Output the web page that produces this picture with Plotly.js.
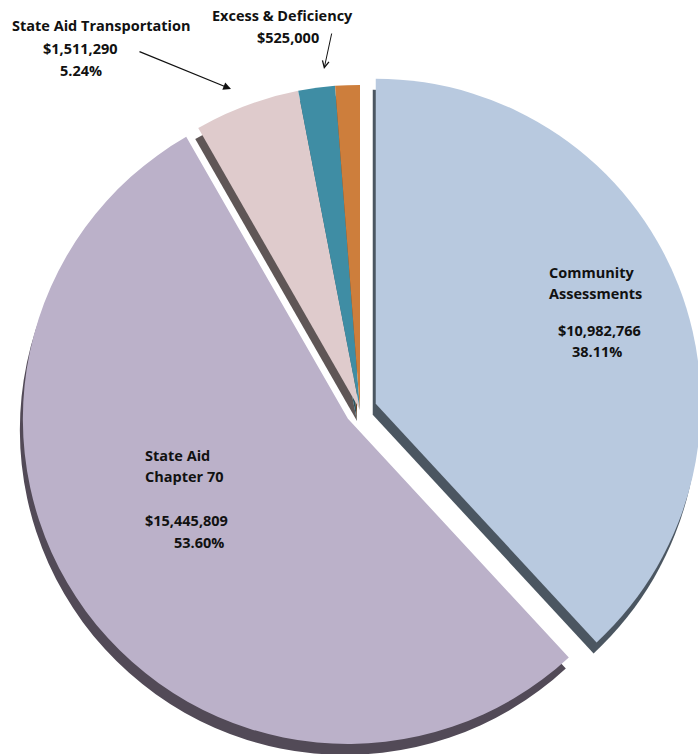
<!DOCTYPE html>
<html><head><meta charset="utf-8">
<script src="https://cdn.plot.ly/plotly-3.0.1.min.js"></script>
<style>html,body{margin:0;padding:0;overflow:hidden;background:#fff}#chart{width:712px;height:800px}</style>
</head><body><div id="chart"></div>
<script>
const categories = ["Community Assessments","State Aid Chapter 70","State Aid Transportation","Excess & Deficiency","Other"];
const amounts = [10982766, 15445809, 1511290, 525000, 352000];
const amountLabels = ["$10,982,766","$15,445,809","$1,511,290","$525,000",""];
const percentLabels = ["38.11%","53.60%","5.24%","",""];
const nameLines = [["Community","Assessments"],["State Aid","Chapter 70"],["State Aid Transportation"],["Excess & Deficiency"],[]];
const sliceColors = ["#b8c9df","#bbb1c9","#dfcbcc","#3f8da4","#cd7e3c"];
const edgeColors = ["#4b5661","#524a57","#5f5656","#2b5563","#6d4424"];
const pulls = [0.052, 0.046, 0, 0, 0];

const W = 712, H = 800;
const font = {family: "'Open Sans', Lato, sans-serif", size: 14.5, color: "#111"};

function dom(cx, cy, size) {
  return {x: [(cx - size/2)/W, (cx + size/2)/W], y: [(H - cy - size/2)/H, (H - cy + size/2)/H]};
}
const pieSize = 684;

const shadow = {
  type: 'pie', labels: categories.map(c => c + ' edge'), values: amounts, sort: false,
  direction: 'clockwise', rotation: 0, pull: pulls,
  marker: {colors: edgeColors, line: {width: 0}},
  textinfo: 'none', hoverinfo: 'skip', showlegend: false,
  domain: dom(357, 421, pieSize)
};
const main = {
  type: 'pie', labels: categories, values: amounts, sort: false,
  direction: 'clockwise', rotation: 0, pull: pulls,
  marker: {colors: sliceColors, line: {width: 0}},
  textinfo: 'none', hoverinfo: 'skip', showlegend: false,
  domain: dom(360, 410, pieSize)
};

function ann(text, px, py, xanchor) {
  return {xref: 'paper', yref: 'paper', x: px/W, y: 1 - py/H, text: '<b>' + text + '</b>',
          showarrow: false, xanchor: xanchor || 'center', yanchor: 'middle', font: font};
}
const annotations = [
  ann(nameLines[0][0], 591, 272), ann(nameLines[0][1], 595, 294),
  ann(amountLabels[0], 599, 330), ann(percentLabels[0], 597, 351),
  ann(nameLines[1][0], 143, 455, 'left'), ann(nameLines[1][1], 143, 477, 'left'),
  ann(amountLabels[1], 143, 520, 'left'), ann(percentLabels[1], 172, 542, 'left'),
  ann(nameLines[2][0], 102, 25), ann(amountLabels[2], 80, 48), ann(percentLabels[2], 81, 70),
  ann(nameLines[3][0], 282, 15), ann(amountLabels[3], 288, 37),
  {xref: 'paper', yref: 'paper', x: 231/W, y: 1 - 89/H, ax: -93, ay: -38, text: '',
   showarrow: true, arrowhead: 2, arrowsize: 1.3, arrowwidth: 1.2, arrowcolor: '#111'},
  {xref: 'paper', yref: 'paper', x: 324/W, y: 1 - 69/H, ax: 8, ay: -37, text: '',
   showarrow: true, arrowhead: 5, arrowsize: 1.3, arrowwidth: 1, arrowcolor: '#111'}
];

Plotly.newPlot('chart', [shadow, main], {
  width: W, height: H, margin: {l: 0, r: 0, t: 0, b: 0},
  paper_bgcolor: '#fff', showlegend: false, annotations: annotations
}, {staticPlot: true});
</script></body></html>
